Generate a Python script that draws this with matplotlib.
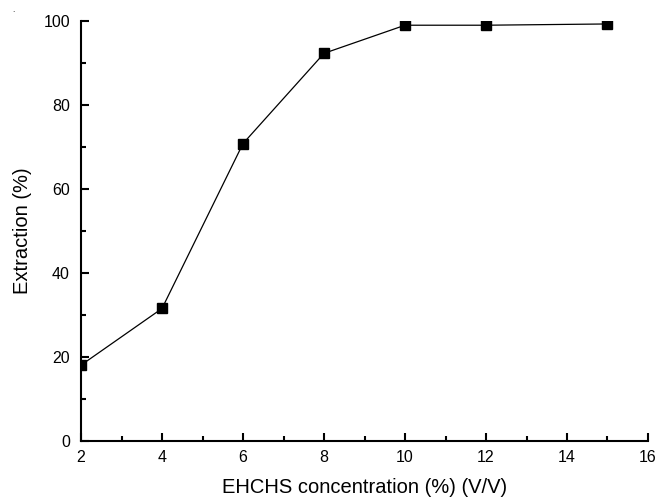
import matplotlib
matplotlib.use("Agg")
import matplotlib.pyplot as plt
from matplotlib.ticker import MultipleLocator

concentration = [2, 4, 6, 8, 10, 12, 15]
extraction = [18.0, 31.5, 70.8, 92.3, 99.0, 99.0, 99.3]

plt.rcParams['font.family'] = ['Liberation Sans', 'DejaVu Sans']

fig = plt.figure(figsize=(6.56, 4.97), dpi=100)
ax = fig.add_axes([0.1235, 0.1133, 0.8643, 0.8444])

ax.plot(concentration, extraction, color='black', linewidth=0.9,
        marker='s', markersize=7, markerfacecolor='black', markeredgecolor='black')

ax.set_xlim(2, 16)
ax.set_ylim(0, 100)
ax.xaxis.set_major_locator(MultipleLocator(2))
ax.xaxis.set_minor_locator(MultipleLocator(1))
ax.yaxis.set_major_locator(MultipleLocator(20))
ax.yaxis.set_minor_locator(MultipleLocator(10))

for s in ['top', 'right']:
    ax.spines[s].set_visible(False)
for s in ['left', 'bottom']:
    ax.spines[s].set_linewidth(1.5)

ax.tick_params(which='major', direction='in', length=6, width=1.5, labelsize=11.5)
ax.tick_params(axis='x', which='major', pad=7)
ax.tick_params(axis='y', which='major', pad=8)
ax.tick_params(which='minor', direction='in', length=3.5, width=1.5)

ax.set_xlabel('EHCHS concentration (%) (V/V)', fontsize=14.5, labelpad=9)
ax.set_ylabel('Extraction (%)', fontsize=14.5, labelpad=8)

fig.text(0.018, 0.975, '.', fontsize=6)

fig.savefig('out.png', dpi=100)
